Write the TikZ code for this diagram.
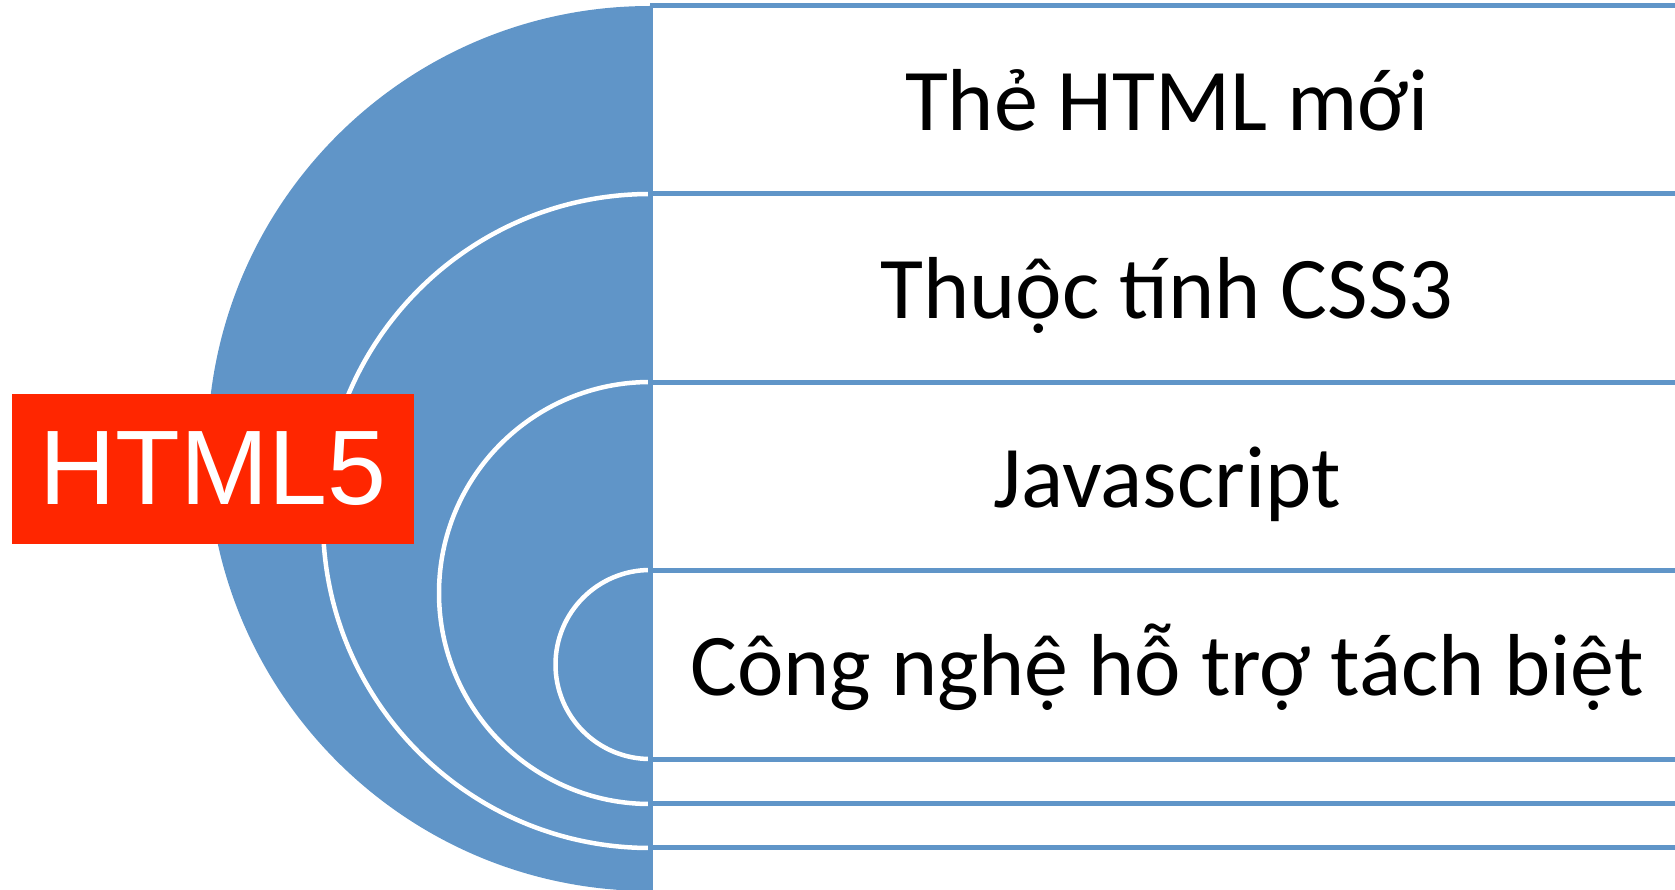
\documentclass[tikz,border=0pt]{standalone}
\usepackage{fontspec}
\setmainfont{Carlito}
\newfontfamily\arialfont{Liberation Sans}
\definecolor{arcblue}{RGB}{96,149,200}
\definecolor{boxred}{RGB}{255,38,0}
\begin{document}
\begin{tikzpicture}[x=1pt,y=-1pt,
  halfdisk/.style={fill=arcblue},
  innerdisk/.style={fill=arcblue,draw=white,line width=4.5pt},
  rowline/.style={draw=arcblue,line width=5pt},
  rowtext/.style={anchor=base,font=\fontsize{88}{100}\selectfont,text=black,inner sep=0pt},
  titlebox/.style={fill=boxred,text=white,font=\arialfont\fontsize{106}{120}\selectfont,inner sep=0pt,minimum width=402pt,minimum height=150pt}]
\useasboundingbox (0,0) rectangle (1675,890);
% half disks
\fill[halfdisk] (650,6) arc[start angle=90,end angle=270,radius=442.5pt] -- cycle;
\filldraw[innerdisk] (650,194) arc[start angle=90,end angle=270,radius=327pt];
\filldraw[innerdisk] (650,382) arc[start angle=90,end angle=270,radius=211pt];
\filldraw[innerdisk] (650,570) arc[start angle=90,end angle=270,radius=94.5pt];
% rows
\coordinate (v0) at (650,6);
\coordinate (v1) at (650,896);
\foreach \yy/\nm in {6/a,194/b,382/c,570/d,759/e,803/f,847/g}{
  \coordinate (l\nm) at (650,\yy);
  \coordinate (r\nm) at (1690,\yy);
  \draw[rowline] (l\nm) -- (r\nm);
}
\draw[rowline] (v0) -- (v1);
% texts
\node[rowtext] (t1) at (1167,131) {Thẻ HTML mới};
\node[rowtext] (t2) at (1167,319) {Thuộc tính CSS3};
\node[rowtext] (t3) at (1167,507) {Javascript};
\node[rowtext] (t4) at (1167,695) {Công nghệ hỗ trợ tách biệt};
% title
\node[titlebox] (title) at (213,469) {HTML5};
\end{tikzpicture}
\end{document}
